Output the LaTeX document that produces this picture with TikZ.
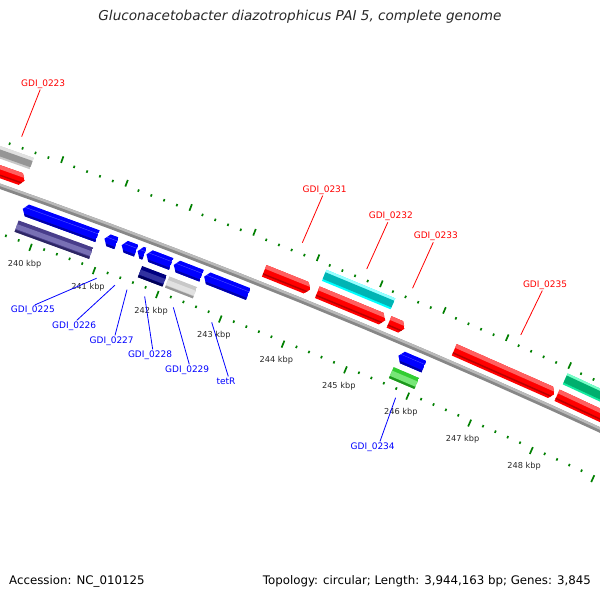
\documentclass[tikz,border=0pt]{standalone}
\usepackage{fontspec}
\setmainfont{DejaVu Sans}
\makeatletter
\def\gparse#1,#2\gend{\def\gK{#1}\def\gR{#2}}
\tikzdeclarecoordinatesystem{g}{%
  \gparse#1\gend
  \pgfmathsetmacro\gS{(\gK-246)*68}%
  \pgfmathsetmacro\gQ{(0.01*\gS)*(0.01*\gS)*0.714286}%
  \pgfmathsetmacro\gA{23.2+\gS*0.0081853}%
  \pgfmathsetmacro\gX{426.3+\gS*0.91914-\gQ*0.39394+\gR*sin(\gA)}%
  \pgfmathsetmacro\gY{352.7+\gS*0.39394+\gQ*0.91914-\gR*cos(\gA)}%
  \pgfpointxy{\gX}{\gY}}
\makeatother
\definecolor{redB}{RGB}{255,0,0}\definecolor{redT}{RGB}{255,95,95}\definecolor{redD}{RGB}{185,0,0}
\definecolor{bluB}{RGB}{0,0,255}\definecolor{bluT}{RGB}{90,90,255}\definecolor{bluD}{RGB}{0,0,170}
\definecolor{cyaB}{RGB}{0,255,255}\definecolor{cyaT}{RGB}{150,255,255}\definecolor{cyaD}{RGB}{0,180,180}
\definecolor{gryB}{RGB}{200,200,200}\definecolor{gryT}{RGB}{225,225,225}\definecolor{gryD}{RGB}{150,150,150}
\definecolor{slaB}{RGB}{72,61,139}\definecolor{slaT}{RGB}{120,112,180}\definecolor{slaD}{RGB}{45,38,100}
\definecolor{navB}{RGB}{0,0,128}\definecolor{navT}{RGB}{50,50,160}\definecolor{navD}{RGB}{0,0,85}
\definecolor{grnB}{RGB}{50,205,50}\definecolor{grnT}{RGB}{120,230,120}\definecolor{grnD}{RGB}{30,150,30}
\definecolor{tealB}{RGB}{20,235,160}\definecolor{tealT}{RGB}{120,255,200}\definecolor{tealD}{RGB}{0,175,110}
\definecolor{tickc}{RGB}{0,128,0}
\definecolor{bbB}{RGB}{135,135,135}\definecolor{bbT}{RGB}{185,185,185}
\definecolor{txt}{RGB}{40,40,40}
\newcommand\shaperect[4]{(g cs:#1,#3) -- (g cs:#2,#3) -- (g cs:#2,#4) -- (g cs:#1,#4) -- cycle}
\newcommand\shapefwd[4]{(g cs:#1,#3) -- (g cs:#2-0.065,#3) -- (g cs:#2,\gmid) -- (g cs:#2-0.065,#4) -- (g cs:#1,#4) -- cycle}
\newcommand\shaperev[4]{(g cs:#1+0.065,#3) -- (g cs:#2,#3) -- (g cs:#2,#4) -- (g cs:#1+0.065,#4) -- (g cs:#1,\gmid) -- cycle}
\newcommand\gene[6]{%
  \pgfmathsetmacro\gmid{(#4+#5)/2}%
  \pgfmathsetmacro\gtop{#5-(#5-#4)*0.32}%
  \pgfmathsetmacro\gbot{#4+(#5-#4)*0.18}%
  \begin{scope}
    \clip #1{#2}{#3}{#4}{#5};
    \fill[#6B] #1{#2}{#3}{#4}{#5};
    \fill[#6T] (g cs:#2-0.2,\gtop) -- (g cs:#3+0.2,\gtop) -- (g cs:#3+0.2,#5+2) -- (g cs:#2-0.2,#5+2) -- cycle;
    \fill[#6D] (g cs:#2-0.2,#4-2) -- (g cs:#3+0.2,#4-2) -- (g cs:#3+0.2,\gbot) -- (g cs:#2-0.2,\gbot) -- cycle;
  \end{scope}}
\begin{document}
\begin{tikzpicture}[x=1pt,y=-1pt,
  kbplabel/.style={font=\fontsize{8.2}{9}\selectfont,text=txt,inner sep=0pt},
  redlabel/.style={font=\fontsize{9}{10}\selectfont,text=red,inner sep=1pt},
  bluelabel/.style={font=\fontsize{9}{10}\selectfont,text=blue,inner sep=1pt},
  redline/.style={draw=red,line width=0.8pt},
  blueline/.style={draw=blue,line width=0.8pt},
  ticksmall/.style={draw=tickc,line width=1.7pt},
  tickbig/.style={draw=tickc,line width=1.7pt},
  footer/.style={font=\fontsize{11.8}{13}\selectfont,text=black,inner sep=0pt}]
\fill[white] (0,0) rectangle (600,600);
\useasboundingbox (0,0) rectangle (600,600);
\begin{scope}
\clip (0,0) rectangle (600,600);
% backbone
\fill[bbB] (g cs:238,2.6) \foreach \k in {239,...,250}{ -- (g cs:\k,2.6)} -- (g cs:250,-2.6) \foreach \k in {249,...,238}{ -- (g cs:\k,-2.6)} -- cycle;
\fill[bbT] (g cs:238,2.6) \foreach \k in {239,...,250}{ -- (g cs:\k,2.6)} -- (g cs:250,0.2) \foreach \k in {249,...,238}{ -- (g cs:\k,0.2)} -- cycle;
% ticks
\foreach \n in {1190,...,1253} {
  \pgfmathsetmacro\tk{\n/5}
  \pgfmathtruncatemacro\isbig{mod(\n,5)==0 ? 1 : 0}
  \ifnum\isbig=1
    \draw[tickbig] (g cs:\tk,42.5) -- (g cs:\tk,49.5);
    \draw[tickbig] (g cs:\tk,-43.5) -- (g cs:\tk,-51);
  \else
    \draw[ticksmall] (g cs:\tk,42) -- (g cs:\tk,44.5);
    \draw[ticksmall] (g cs:\tk,-43.5) -- (g cs:\tk,-46);
  \fi
}
% outer row 2
\gene{\shaperect}{239.07}{239.6}{26}{38}{gry}
\gene{\shaperect}{244.18}{245.27}{26}{38}{cya}
\gene{\shaperect}{248.02}{250}{26}{38}{teal}
% outer row 1
\gene{\shapefwd}{239.07}{239.59}{7.5}{20}{red}
\gene{\shapefwd}{243.34}{244.07}{7.5}{20}{red}
\gene{\shapefwd}{244.18}{245.26}{7.5}{20}{red}
\gene{\shapefwd}{245.32}{245.57}{7.5}{20}{red}
\gene{\shapefwd}{246.36}{247.97}{7.5}{20}{red}
\gene{\shapefwd}{248.01}{250.5}{7.5}{20}{red}
% inner row 1
\gene{\shaperev}{239.70}{240.87}{-20}{-7.5}{blu}
\gene{\shaperev}{240.98}{241.17}{-20}{-7.5}{blu}
\gene{\shaperev}{241.25}{241.48}{-20}{-7.5}{blu}
\gene{\shaperev}{241.50}{241.61}{-20}{-7.5}{blu}
\gene{\shaperev}{241.64}{242.03}{-20}{-7.5}{blu}
\gene{\shaperev}{242.07}{242.51}{-20}{-7.5}{blu}
\gene{\shaperev}{242.55}{243.25}{-20}{-7.5}{blu}
\gene{\shaperev}{245.64}{246.05}{-20}{-7.5}{blu}
% inner row 2
\gene{\shaperect}{239.70}{240.87}{-38}{-26}{sla}
\gene{\shaperect}{241.64}{242.03}{-38}{-26}{nav}
\gene{\shaperect}{242.07}{242.51}{-38}{-26}{gry}
\gene{\shaperect}{245.64}{246.05}{-38}{-26}{grn}
\end{scope}
% tick labels
\foreach \k in {240,...,248} \node[kbplabel] (t\k) at (g cs:\k,-64.7) {\k\ kbp};
% gene label anchor points
\coordinate (c0223) at (g cs:239.33,54);
\coordinate (c0231) at (g cs:243.705,54);
\coordinate (c0232) at (g cs:244.72,54);
\coordinate (c0233) at (g cs:245.445,54);
\coordinate (c0235) at (g cs:247.165,54);
\coordinate (c0225) at (g cs:241.075,-53.5);
\coordinate (c0226) at (g cs:241.365,-53.5);
\coordinate (c0227) at (g cs:241.555,-53.5);
\coordinate (c0228) at (g cs:241.835,-53.5);
\coordinate (c0229) at (g cs:242.29,-53.5);
\coordinate (ctetR) at (g cs:242.9,-53.5);
\coordinate (c0234) at (g cs:245.845,-53.5);
% labels
\node[redlabel] (l0223) at (43.2,84) {GDI\_0223};
\node[redlabel] (l0231) at (324.7,190) {GDI\_0231};
\node[redlabel] (l0232) at (390.8,216.7) {GDI\_0232};
\node[redlabel] (l0233) at (435.8,236.7) {GDI\_0233};
\node[redlabel] (l0235) at (545,285) {GDI\_0235};
\node[bluelabel] (l0225) at (32.9,310.5) {GDI\_0225};
\node[bluelabel] (l0226) at (74.2,326) {GDI\_0226};
\node[bluelabel] (l0227) at (111.7,341) {GDI\_0227};
\node[bluelabel] (l0228) at (150,355) {GDI\_0228};
\node[bluelabel] (l0229) at (187.2,370) {GDI\_0229};
\node[bluelabel] (ltetR) at (226,381) {tetR};
\node[bluelabel] (l0234) at (372.7,447) {GDI\_0234};
\draw[redline] ([xshift=-3pt]l0223.south) -- (c0223);
\draw[redline] ([xshift=-2pt]l0231.south) -- (c0231);
\draw[redline] ([xshift=-3pt]l0232.south) -- (c0232);
\draw[redline] ([xshift=-2.5pt]l0233.south) -- (c0233);
\draw[redline] ([xshift=-2.7pt]l0235.south) -- (c0235);
\draw[blueline] ([xshift=2pt]l0225.north) -- (c0225);
\draw[blueline] ([xshift=2.5pt]l0226.north) -- (c0226);
\draw[blueline] ([xshift=3.3pt]l0227.north) -- (c0227);
\draw[blueline] ([xshift=2.7pt]l0228.north) -- (c0228);
\draw[blueline] ([xshift=2.1pt]l0229.north) -- (c0229);
\draw[blueline] ([xshift=2.3pt]ltetR.north) -- (ctetR);
\draw[blueline] ([xshift=7.3pt]l0234.north) -- (c0234);
% title and footer
\node[font=\fontsize{13.6}{16}\selectfont\itshape,text=txt,inner sep=0pt] (title) at (300,17) {Gluconacetobacter diazotrophicus PAI 5, complete genome};
\node[footer,anchor=west] (acc) at (9,581) {Accession: NC\_010125};
\node[footer,anchor=east] (topo) at (591,581) {Topology: circular; Length: 3,944,163 bp; Genes: 3,845};
\end{tikzpicture}
\end{document}
